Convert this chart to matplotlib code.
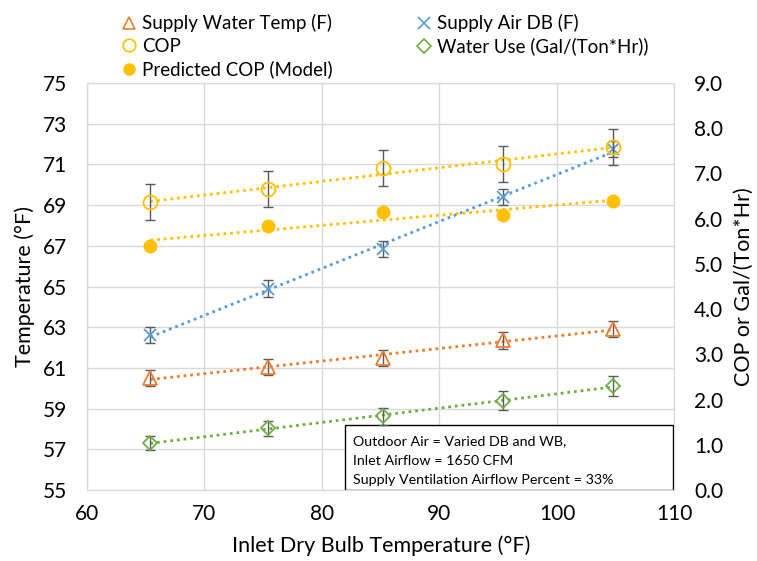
import numpy as np
import matplotlib
matplotlib.use("Agg")
import matplotlib.pyplot as plt
from matplotlib.lines import Line2D
from matplotlib.patches import Rectangle

plt.rcParams['font.family'] = ['Lato', 'DejaVu Sans']

# data
inlet_db = [65.4, 75.4, 85.2, 95.4, 104.8]
supply_water = [60.5, 61.05, 61.5, 62.35, 62.9]
supply_water_err = [0.4, 0.4, 0.4, 0.4, 0.4]
supply_air = [62.6, 64.9, 66.85, 69.4, 71.75]
supply_air_err = [0.4, 0.4, 0.4, 0.4, 0.4]
cop = [6.36, 6.65, 7.12, 7.21, 7.58]
cop_err = [0.4, 0.4, 0.4, 0.4, 0.4]
cop_pred = [5.40, 5.84, 6.14, 6.08, 6.39]
water_use = [1.04, 1.36, 1.63, 1.97, 2.30]
water_use_err = [0.15, 0.17, 0.19, 0.21, 0.23]

orange = '#ED7D31'
blue = '#5B9BD5'
gold = '#FFC000'
green = '#70AD47'
errc = '#595959'
gridc = '#D9D9D9'
dots = (0, (1, 1.4))

fig = plt.figure(figsize=(7.57, 5.61), dpi=100)
ax = fig.add_axes([0.1149, 0.1266, 0.7761, 0.7254])
ax2 = ax.twinx()

x = np.array(inlet_db)


def trend(a, y, color):
    p = np.polyfit(x, y, 1)
    a.plot([x[0], x[-1]], np.polyval(p, [x[0], x[-1]]), color=color,
           linestyle=dots, lw=2, zorder=3)


# left axis series
trend(ax, supply_water, orange)
trend(ax, supply_air, blue)
ax.errorbar(x, supply_water, yerr=supply_water_err, fmt='none', ecolor=errc,
            elinewidth=1, capsize=3.5, capthick=1, zorder=4)
ax.errorbar(x, supply_air, yerr=supply_air_err, fmt='none', ecolor=errc,
            elinewidth=1, capsize=3.5, capthick=1, zorder=4)
ax.plot(x, supply_water, linestyle='none', marker='^', ms=10, mfc='none',
        mec=orange, mew=1.3, zorder=5)
ax.plot(x, supply_air, linestyle='none', marker='x', ms=9, mec=blue,
        mew=1.3, zorder=5)

# right axis series
trend(ax2, cop, gold)
trend(ax2, cop_pred, gold)
trend(ax2, water_use, green)
ax2.errorbar(x, cop, yerr=cop_err, fmt='none', ecolor=errc,
             elinewidth=1, capsize=3.5, capthick=1, zorder=4)
ax2.errorbar(x, water_use, yerr=water_use_err, fmt='none', ecolor=errc,
             elinewidth=1, capsize=3.5, capthick=1, zorder=4)
ax2.plot(x, cop, linestyle='none', marker='o', ms=10, mfc='none',
         mec=gold, mew=1.3, zorder=5)
ax2.plot(x, cop_pred, linestyle='none', marker='o', ms=9, mfc=gold,
         mec=gold, zorder=5)
ax2.plot(x, water_use, linestyle='none', marker='D', ms=7.5, mfc='none',
         mec=green, mew=1.3, zorder=5)

ax.set_xlim(60, 110)
ax.set_ylim(55, 75)
ax.set_xticks(np.arange(60, 111, 10))
ax.set_yticks(np.arange(55, 76, 2))
ax2.set_ylim(0, 9)
ax2.set_yticks(np.arange(0, 9.1, 1))
ax2.set_yticklabels([f'{v:.1f}' for v in np.arange(0, 9.1, 1)])

ax.grid(True, color=gridc, lw=1)
ax.set_axisbelow(True)
for a in (ax, ax2):
    for s in a.spines.values():
        s.set_color(gridc)
    a.tick_params(length=0, labelsize=15, colors='#000000', pad=14)
ax.tick_params(axis='x', pad=10)

ax.set_xlabel('Inlet Dry Bulb Temperature (°F)', fontsize=15.5, labelpad=8)
ax.set_ylabel('Temperature (°F)', fontsize=15.5, labelpad=6)
ax2.set_ylabel('COP or Gal/(Ton*Hr)', fontsize=15.5, labelpad=8)

# annotation box
ax.add_patch(Rectangle((0.4385, 0.0), 0.5595, 0.16, transform=ax.transAxes,
                       facecolor='white', edgecolor='#000000', lw=1, zorder=6))
notes = ['Outdoor Air = Varied DB and WB,',
         'Inlet Airflow = 1650 CFM',
         'Supply Ventilation Airflow Percent = 33%']
for i, t in enumerate(notes):
    ax.text(0.452, 0.119 - i * 0.047, t, transform=ax.transAxes, fontsize=10.3,
            va='center', ha='left', zorder=7)

handles = [
    Line2D([], [], linestyle='none', marker='^', ms=9, mfc='none', mec=orange, mew=1.2),
    Line2D([], [], linestyle='none', marker='o', ms=9, mfc='none', mec=gold, mew=1.2),
    Line2D([], [], linestyle='none', marker='o', ms=8, mfc=gold, mec=gold),
    Line2D([], [], linestyle='none', marker='x', ms=8, mec=blue, mew=1.2),
    Line2D([], [], linestyle='none', marker='D', ms=7, mfc='none', mec=green, mew=1.2),
]
labels = ['Supply Water Temp (F)', 'COP', 'Predicted COP (Model)',
          'Supply Air DB (F)', 'Water Use (Gal/(Ton*Hr))']
fig.legend(handles, labels, ncol=2, loc='upper left',
           bbox_to_anchor=(123 / 757, 1 - 14 / 561), frameon=False,
           fontsize=13.5, handlelength=0.6, handletextpad=0.4,
           columnspacing=4.6, labelspacing=0.3, borderpad=0, borderaxespad=0)

fig.savefig('out.png', dpi=100)
